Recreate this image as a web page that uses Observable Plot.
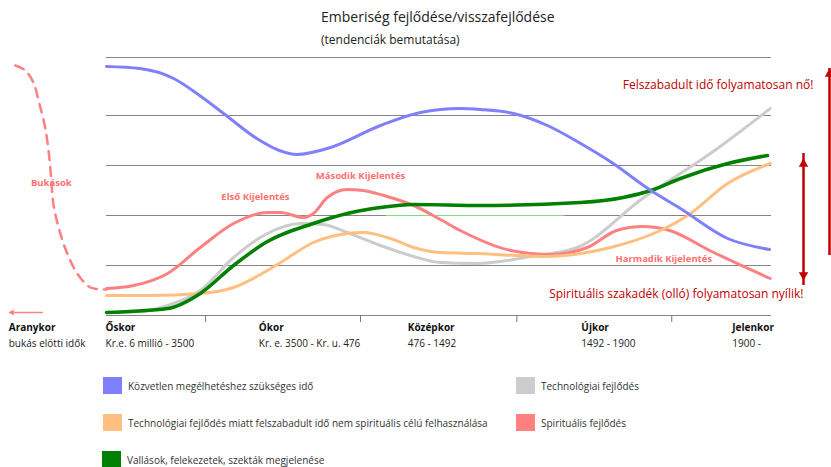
<!DOCTYPE html>
<html><head><meta charset="utf-8">
<script src="https://cdn.jsdelivr.net/npm/d3@7"></script>
<script src="https://cdn.jsdelivr.net/npm/@observablehq/plot@0.6"></script>
<style>
body{margin:0;background:#fff;font-family:"Open Sans",sans-serif;width:831px;height:467px;position:relative;overflow:hidden}
#title{position:absolute;left:321px;top:10px;font-size:14px;line-height:14px;color:#222;white-space:nowrap}
#subtitle{position:absolute;left:321px;top:34px;font-size:12px;line-height:12px;color:#222;white-space:nowrap}
#chart{position:absolute;left:0;top:50px}
.leg{position:absolute;font-size:10px;color:#333;display:flex;align-items:center;white-space:nowrap;height:17px}
.sw{width:19px;height:17px;margin-right:6px;flex:none}
</style></head><body>
<div id="title"></div>
<div id="subtitle"></div>
<div id="chart"></div>
<div id="legend"></div>
<script>
// ---- texts ----
const titleText = "Emberiség fejlődése/visszafejlődése";
const subtitleText = "(tendenciák bemutatása)";
const eras = ["Aranykor", "Őskor", "Ókor", "Középkor", "Újkor", "Jelenkor"];
const eraDates = ["bukás elötti idők", "Kr.e. 6 millió - 3500", "Kr. e. 3500 - Kr. u. 476", "476 - 1492", "1492 - 1900", "1900 -"];
const eraLabelX = [-14.7, -0.15, 22.9, 45.3, 71.4, 94.1];
const eraBoundaries = [14.9, 38.2, 61.7, 85.0];
const gridLevels = [0, 1, 2, 3, 4, 5.16];

const seriesNames = ["Közvetlen megélhetéshez szükséges idő", "Technológiai fejlődés",
  "Technológiai fejlődés miatt felszabadult idő nem spirituális célú felhasználása", "Spirituális fejlődés",
  "Vallások, felekezetek, szekták megjelenése"];
const seriesColors = ["#8080ff", "#cccccc", "#ffbf80", "#ff8080", "#008000"];

// ---- series values [x, y] ----
const blue = [[0,4.98],[5.0,4.94],[10.1,4.74],[14.0,4.4],[18.0,4.0],[22.6,3.54],[26.0,3.3],[28.6,3.22],[33.7,3.36],[41.2,3.8],[47.2,4.06],[53.2,4.14],[56.2,4.12],[61.2,4.04],[66.3,3.8],[71.3,3.44],[76.2,3.04],[81.4,2.54],[86.3,2.14],[93.4,1.54],[99.7,1.32]];
const gray = [[0,0.06],[5.1,0.08],[9.2,0.2],[14.1,0.5],[19.1,1.16],[24.2,1.64],[29.2,1.84],[32.6,1.82],[36.2,1.66],[41.2,1.4],[46.2,1.18],[50.2,1.06],[55.8,1.04],[63.8,1.18],[70.8,1.36],[80.8,2.36],[90.8,3.24],[99.8,4.14]];
const green = [[0,0.06],[9.2,0.14],[14.1,0.44],[19.1,1.0],[24.2,1.48],[31.1,1.84],[36.2,2.04],[41.2,2.16],[46.2,2.22],[56.2,2.2],[71.3,2.26],[77.7,2.36],[82.3,2.52],[86.3,2.74],[93.4,3.04],[99.4,3.2]];
const orange = [[0,0.4],[6.6,0.4],[14.1,0.44],[19.1,0.56],[24.2,0.9],[26.2,1.06],[31.1,1.46],[36.2,1.64],[38.6,1.66],[42.7,1.54],[46.2,1.36],[50.2,1.26],[55.8,1.24],[65.7,1.18],[75.8,1.36],[83.3,1.7],[87.4,2.0],[93.4,2.64],[99.8,3.04]];
const red = [[0,0.54],[4.1,0.6],[9.2,0.84],[14.1,1.36],[19.1,1.84],[24.2,2.06],[26.2,2.06],[29.6,1.96],[31.1,2.04],[33.2,2.36],[36.2,2.52],[38.6,2.5],[42.7,2.36],[46.2,2.2],[50.2,1.92],[53.2,1.7],[60.8,1.3],[66.8,1.22],[72.3,1.36],[76.7,1.7],[80.6,1.78],[84.7,1.7],[90.7,1.3],[99.8,0.74]];
const falls = [[-13.7,5.0],[-12.2,4.9],[-11.0,4.66],[-10.1,4.24],[-9.2,3.74],[-8.6,3.16],[-8.3,2.7],[-8.0,2.24],[-7.2,1.76],[-5.9,1.24],[-4.4,0.84],[-2.4,0.56],[0,0.52]];
const thinGreen = [[42.0,2.0],[68.8,2.0]];

// ---- annotations ----
const revelations = [
  {x:-8.3, y:2.66, t:"Bukások"},
  {x:22.4, y:2.38, t:"Első Kijelentés"},
  {x:38.2, y:2.8, t:"Második Kijelentés"},
  {x:83.8, y:1.14, t:"Harmadik Kijelentés"}
];
const statements = [
  {x:106.3, y:4.6, t:"Felszabadult idő folyamatosan nő!"},
  {x:104.8, y:0.42, t:"Spirituális szakadék (olló) folyamatosan nyílik!"}
];
const longArrow = {x:108.72, y1:1.3, y2:4.94};
const gapArrow = {x:104.81, y1:0.7, y2:3.14};
const backArrow = {y:0.06, x1:-14.74, x2:-9.47};

document.getElementById("title").textContent = titleText;
document.getElementById("subtitle").textContent = subtitleText;

const pts = a => a.map(([x, y]) => ({x, y}));
const eraRows = eras.map((e, i) => ({x: eraLabelX[i], name: e, date: eraDates[i]}));
const curve = "monotone-x";

const chart = Plot.plot({
  width: 831, height: 305, margin: 0,
  x: {domain: [-15.94, 109.02], axis: null},
  y: {domain: [-0.8, 5.3], axis: null},
  style: {fontFamily: "Open Sans", background: "transparent", overflow: "visible"},
  marks: [
    Plot.ruleY(gridLevels, {x1: 0, x2: 100, stroke: "#858585", strokeWidth: 1}),
    Plot.ruleX(eraBoundaries, {y1: 0, y2: -0.14, stroke: "#777", strokeWidth: 1}),
    Plot.line(pts(thinGreen), {x: "x", y: "y", stroke: "#7fdd7f", strokeWidth: 1.2}),
    Plot.line(pts(falls), {x: "x", y: "y", stroke: seriesColors[3], strokeWidth: 2.5, strokeDasharray: "9,7", curve: "catmull-rom"}),
    Plot.line(pts(gray), {x: "x", y: "y", stroke: seriesColors[1], strokeWidth: 3, curve}),
    Plot.line(pts(red), {x: "x", y: "y", stroke: seriesColors[3], strokeWidth: 3, curve}),
    Plot.line(pts(orange), {x: "x", y: "y", stroke: seriesColors[2], strokeWidth: 3, curve}),
    Plot.line(pts(green), {x: "x", y: "y", stroke: seriesColors[4], strokeWidth: 3.5, curve}),
    Plot.line(pts(blue), {x: "x", y: "y", stroke: seriesColors[0], strokeWidth: 3, curve}),
    // arrows
    Plot.ruleX([longArrow], {x: "x", y1: "y1", y2: "y2", insetTop: 5, stroke: "#c00000", strokeWidth: 2.5}),
    Plot.dot([longArrow], {x: "x", y: "y2", symbol: "triangle", r: 3.5, fill: "#c00000", stroke: "none", dy: 5.5}),
    Plot.ruleX([gapArrow], {x: "x", y1: "y1", y2: "y2", insetTop: 5, insetBottom: 5, stroke: "#c00000", strokeWidth: 2.5}),
    Plot.dot([gapArrow], {x: "x", y: "y2", symbol: "triangle", r: 3.5, fill: "#c00000", stroke: "none", dy: 5.5}),
    Plot.dot([gapArrow], {x: "x", y: "y1", symbol: "triangle", r: 3.5, fill: "#c00000", stroke: "none", rotate: 180, dy: -5.5}),
    Plot.ruleY([backArrow], {y: "y", x1: "x1", x2: "x2", insetLeft: 3, stroke: "#ff8080", strokeWidth: 1.5}),
    Plot.dot([backArrow], {x: "x1", y: "y", symbol: "triangle", r: 2.3, fill: "#ff8080", stroke: "none", rotate: -90, dx: 3.5}),
    // labels
    Plot.text(revelations, {x: "x", y: "y", text: "t", fill: "#ff6f6f", fontWeight: "bold", fontSize: 9.5}),
    Plot.text(statements, {x: "x", y: "y", text: "t", fill: "#c00000", fontSize: 12, textAnchor: "end"}),
    Plot.text(eraRows, {x: "x", y: -0.24, text: "name", fill: "#111", fontWeight: "bold", fontSize: 10, textAnchor: "start"}),
    Plot.text(eraRows, {x: "x", y: -0.56, text: "date", fill: "#222", fontSize: 10, textAnchor: "start"})
  ]
});
document.getElementById("chart").appendChild(chart);

// legend (HTML, below the SVG)
const legendPos = [[103, 377], [516, 377], [103, 414], [516, 414], [102, 451]];
const legend = document.getElementById("legend");
seriesNames.forEach((n, i) => {
  const d = document.createElement("div");
  d.className = "leg";
  d.style.left = legendPos[i][0] + "px";
  d.style.top = legendPos[i][1] + "px";
  d.innerHTML = `<span class="sw" style="background:${seriesColors[i]}"></span><span>${n}</span>`;
  legend.appendChild(d);
});
</script>
</body></html>
